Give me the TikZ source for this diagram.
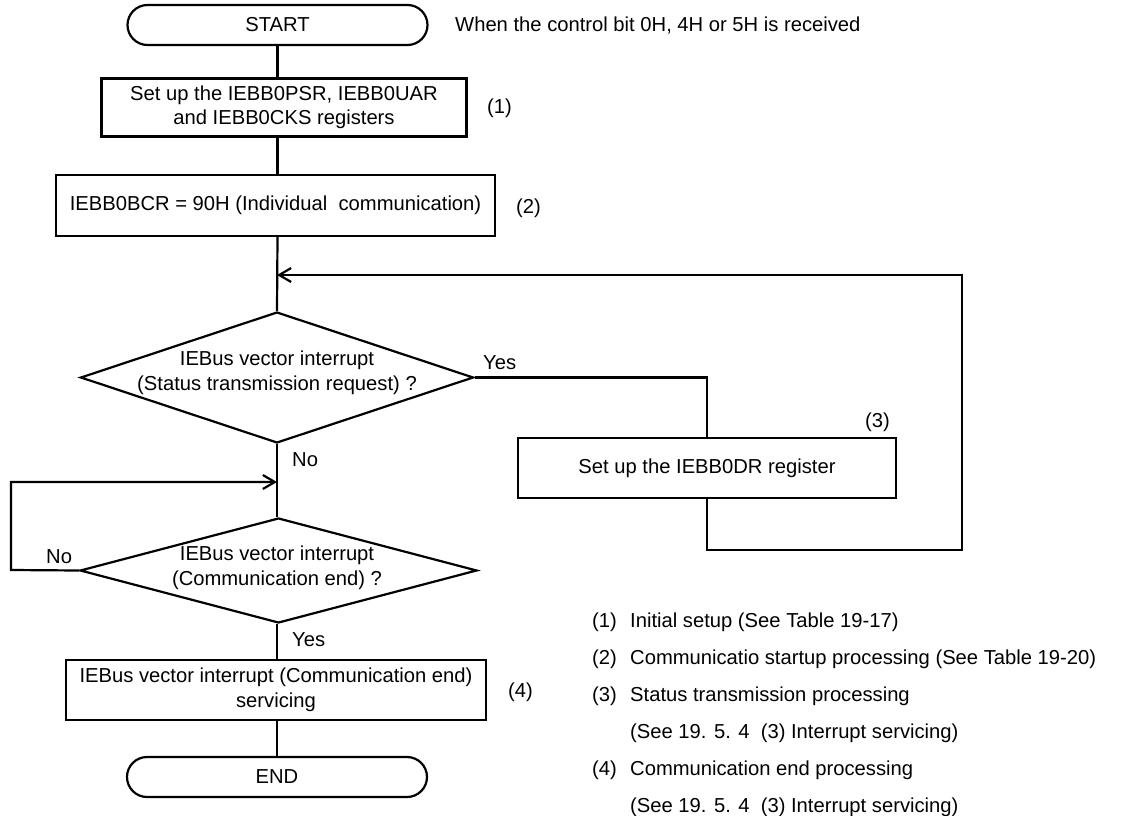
\documentclass[tikz,border=0pt]{standalone}
\usepackage{fontspec}
\setmainfont{Liberation Sans}
\usetikzlibrary{arrows.meta,shapes.geometric}
\newcommand\fsz{\fontsize{20.2}{24.5}\selectfont}
\tikzset{
  ln/.style={line width=2.2pt, line join=miter},
  arr/.style={ln, -{Straight Barb[length=12pt,width=14pt,line width=2.2pt]}},
  base/.style={draw, ln, font=\fsz, align=center, inner sep=0pt},
  term/.style={base, rounded corners=20pt, minimum width=300pt, minimum height=40pt},
  procbox/.style={base, rectangle},
  dia/.style={draw, ln, diamond, inner sep=0pt},
  txt/.style={font=\fsz, inner sep=0pt, align=center},
  lbl/.style={font=\fsz, inner sep=0pt, anchor=west},
}
\begin{document}
\begin{tikzpicture}[x=1pt,y=-1pt]
\fill[white] (0,0) rectangle (1124,816);
\useasboundingbox (0,0) rectangle (1124,816);

% nodes
\node[term] (start) at (277.5,25) {START};
\node[lbl] (when) at (455,25) {When the control bit 0H, 4H or 5H is received};

\node[procbox, minimum width=365pt, minimum height=58pt] (box1) at (284,107.5)
  {Set up the IEBB0PSR, IEBB0UAR\\and IEBB0CKS registers};
\node[lbl] (l1) at (487,108) {(1)};

\node[procbox, minimum width=439pt, minimum height=61pt] (box2) at (275.5,205.5)
  {IEBB0BCR = 90H (Individual\ \ communication)};
\node[lbl] (l2) at (516,208) {(2)};

\node[dia, minimum width=393pt, minimum height=131pt] (d1) at (277,377.5) {};
\node[txt] (d1t) at (277,373) {IEBus vector interrupt\\(Status transmission request) ?};
\node[lbl] (yes1) at (483,363) {Yes};
\node[lbl] (no1) at (292,460) {No};

\node[procbox, minimum width=378pt, minimum height=60pt] (box3) at (707,468)
  {Set up the IEBB0DR register};
\node[lbl] (l3) at (865,422) {(3)};

\node[dia, minimum width=397pt, minimum height=105pt] (d2) at (278.5,570.5) {};
\node[txt] (d2t) at (277,568) {IEBus vector interrupt\\(Communication end) ?};
\node[lbl] (no2) at (46,557) {No};
\node[lbl] (yes2) at (292,640) {Yes};

\node[procbox, minimum width=420pt, minimum height=60pt] (box4) at (276,690)
  {IEBus vector interrupt (Communication end)\\servicing};
\node[lbl] (l4) at (508,692) {(4)};

\node[term] (end) at (277,777) {END};

% notes
\node[lbl] (n1a) at (592,622) {(1)};
\node[lbl] (n1b) at (630,622) {Initial setup (See Table 19-17)};
\node[lbl] (n2a) at (592,659) {(2)};
\node[lbl] (n2b) at (630,659) {Communicatio startup processing (See Table 19-20)};
\node[lbl] (n3a) at (592,696) {(3)};
\node[lbl] (n3b) at (630,696) {Status transmission processing};
\node[lbl] (n3c) at (630,733) {(See 19. 5. 4\ \ (3) Interrupt servicing)};
\node[lbl] (n4a) at (592,770) {(4)};
\node[lbl] (n4b) at (630,770) {Communication end processing};
\node[lbl] (n4c) at (630,807) {(See 19. 5. 4\ \ (3) Interrupt servicing)};

% coordinates
\coordinate (loopR) at (962,550);
\coordinate (loopIn) at (277,275);
\coordinate (noL) at (11,570);
\coordinate (noIn) at (277,482);

% connectors
\draw[ln] (start.south) -- (start.south |- box1.north);
\draw[ln] (box1.south -| start.south) -- (box2.north -| start.south);
\draw[ln] (box2.south -| start.south) -- (d1.north);
\draw[ln] (d1.east) -| (box3.north);
\draw[arr] (box3.south) |- (loopR) |- (loopIn);
\draw[ln] (d1.south) -- (d2.north -| d1.south);
\draw[arr] (d2.west) -- (noL) |- (noIn);
\draw[ln] (d2.south -| d1.south) -- (box4.north -| d1.south);
\draw[ln] (box4.south -| d1.south) -- (end.north);
\end{tikzpicture}
\end{document}
